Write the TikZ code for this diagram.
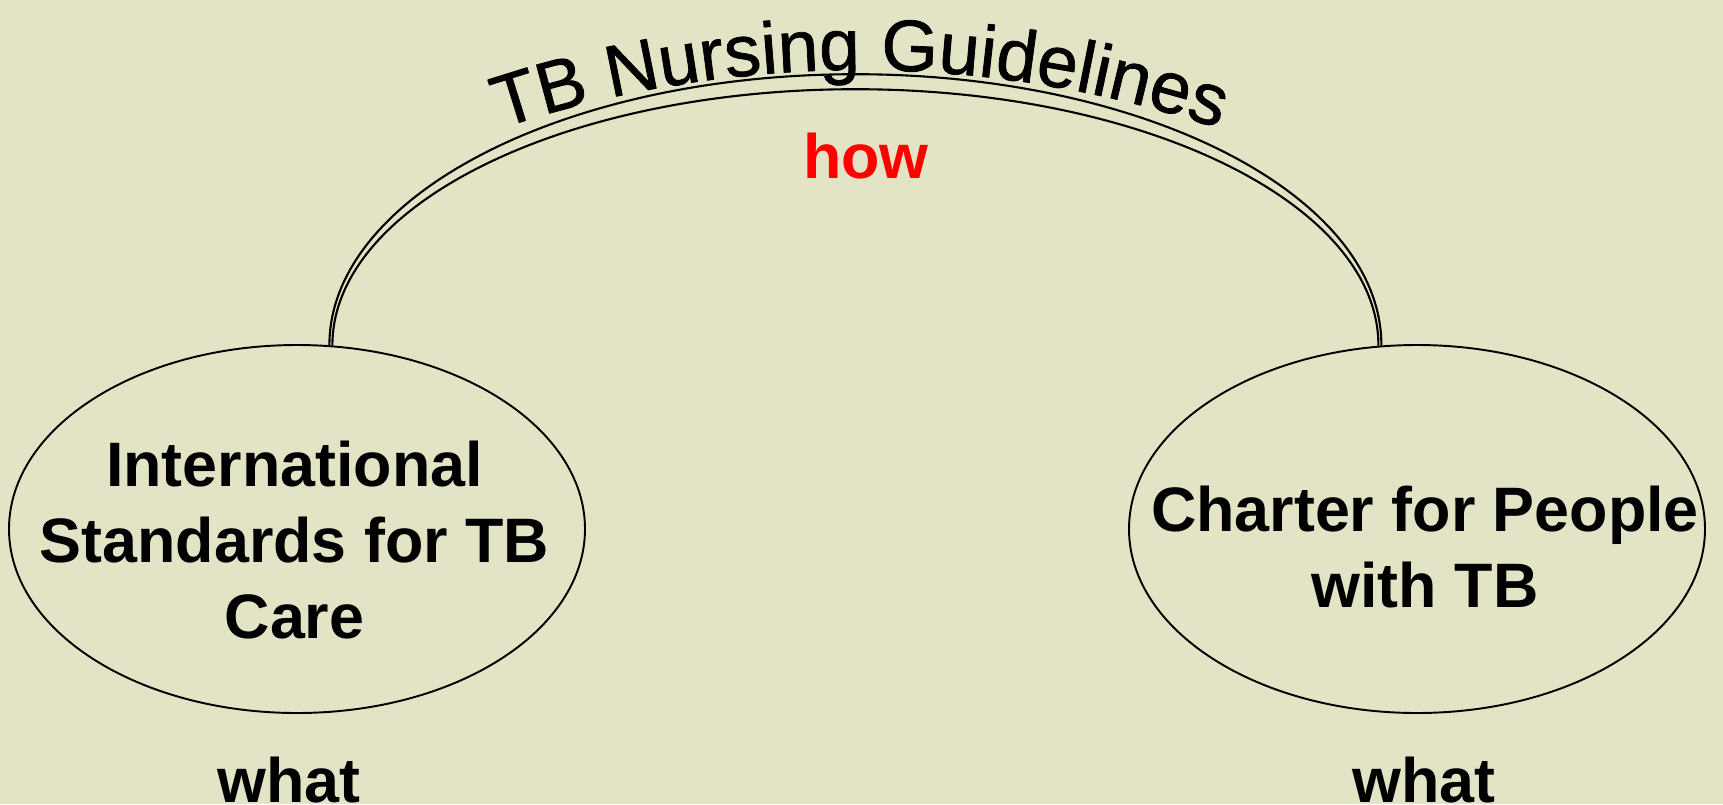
\documentclass[tikz,border=0pt]{standalone}
\usepackage{fontspec}
\setmainfont{Liberation Sans}
\newfontfamily\archfamily{Liberation Sans}[FakeBold=1]
\usetikzlibrary{shapes.geometric, decorations.text, calc}

\definecolor{slidebg}{RGB}{227,228,198}
\newcommand\boldtext{\fontsize{0.628cm}{0.76cm}\selectfont\bfseries}
\newcommand\archtext{\archfamily\fontsize{0.73cm}{0.9cm}\selectfont}

\begin{document}
\begin{tikzpicture}[line join=round, line cap=round,
    oval/.style={draw, ellipse, line width=0.55pt, minimum width=5.76cm, minimum height=3.68cm, inner sep=0pt},
    boldtxt/.style={font=\boldtext, align=center, inner sep=0pt},
    bridge/.style={line width=0.6pt}]
    % 1. Background (slide area)
    \useasboundingbox (0,0) rectangle (17.23,8.04);
    \fill[slidebg] (0,0) rectangle (17.23,8.04);

    % 2. Ellipses
    \node[oval] (ist) at (2.97,2.75) {};
    \node[oval] (charter) at (14.17,2.75) {};

    % 3. Texts inside and below
    \node[boldtxt] (istText) at (2.945,2.64) {International\\Standards for TB\\Care};
    \node[boldtxt] (charterText) at (14.25,2.565) {Charter for People\\with TB};
    \node[boldtxt, anchor=base] (whatIst) at (2.89,0.02) {what};
    \node[boldtxt, anchor=base] (whatCharter) at (14.24,0.02) {what};
    \node[boldtxt, anchor=base, text=red] (how) at (8.66,6.26) {how};

    % 4. Double arc joining the two ellipses
    \draw[bridge] (ist.80) arc[start angle=180, end angle=0, x radius=5.26cm, y radius=2.71cm];
    \draw[bridge] ($(ist.80)+(0.03,0)$) arc[start angle=180, end angle=0, x radius=5.23cm, y radius=2.56cm];

    % 5. Arched title
    \path[decorate, decoration={text along path, text align=center,
        text={|\archtext|TB Nursing Guidelines}}]
        (8.60,-3.96) ++(120:11.3) arc[start angle=120, end angle=60, radius=11.3];
\end{tikzpicture}
\end{document}
